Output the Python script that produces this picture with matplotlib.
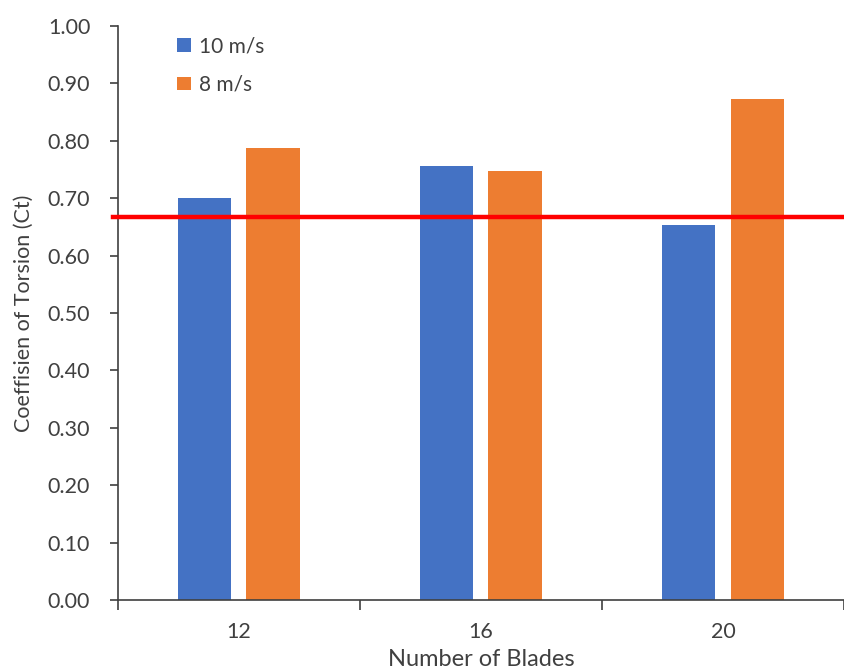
import numpy as np
import matplotlib
matplotlib.use("Agg")
import matplotlib.pyplot as plt

blades = ["12", "16", "20"]
speed_labels = ["10 m/s", "8 m/s"]
ct_10 = [0.701, 0.756, 0.653]
ct_8 = [0.788, 0.747, 0.872]
ct_ref = 0.667

plt.rcParams['font.family'] = ['Lato', 'DejaVu Sans']
txt = '#404040'

fig = plt.figure(figsize=(8.44, 6.71), dpi=100)
ax = fig.add_axes([0.1398, 0.1058, 0.8602, 0.8555])

x = np.arange(len(blades))
w = 0.222
ax.bar(x - 0.142, ct_10, w, color='#4472C4', label=speed_labels[0], zorder=2)
ax.bar(x + 0.142, ct_8, w, color='#ED7D31', label=speed_labels[1], zorder=2)
ax.axhline(ct_ref, xmin=-0.007, xmax=1, color='#FF0000', lw=3.2, clip_on=False, zorder=3)

ax.set_xlim(-0.5, 2.5)
ax.set_ylim(0, 1.0)
ax.set_yticks(np.arange(0, 1.01, 0.1))
ax.set_yticklabels([f"{v:.2f}" for v in np.arange(0, 1.01, 0.1)])
ax.set_xticks(x)
ax.set_xticklabels(blades)
ax.set_xticks([-0.5, 0.5, 1.5, 2.5], minor=True)
ax.tick_params(axis='x', which='major', length=0, pad=16, labelsize=15.5, labelcolor=txt)
ax.tick_params(axis='x', which='minor', length=7, width=1.2, color='#404040', direction='out')
ax.tick_params(axis='y', length=6, width=1.2, color='#404040', labelsize=15.5, labelcolor=txt, pad=14)

for s in ['top', 'right']:
    ax.spines[s].set_visible(False)
for s in ['left', 'bottom']:
    ax.spines[s].set_color('#404040')
    ax.spines[s].set_linewidth(1.2)

ax.set_ylabel("Coeffisien of Torsion (Ct)", fontsize=15.5, color=txt, labelpad=10)
ax.set_xlabel("Number of Blades", fontsize=17, color=txt, labelpad=5)

ax.legend(loc='upper left', bbox_to_anchor=(0.056, 1.015), frameon=False, fontsize=15,
          handlelength=0.65, handleheight=0.65, labelspacing=0.9, handletextpad=0.4,
          labelcolor=txt)

fig.savefig("out.png", dpi=100)
